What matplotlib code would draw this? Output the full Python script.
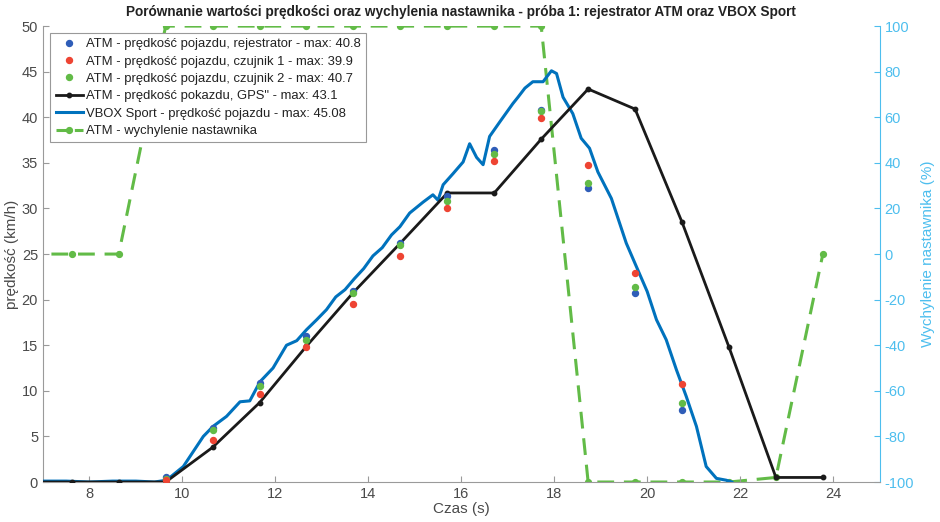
import matplotlib
matplotlib.use("Agg")
import matplotlib.pyplot as plt
from matplotlib.lines import Line2D

plt.rcParams['font.family'] = ['Liberation Sans', 'DejaVu Sans']
plt.rcParams['axes.unicode_minus'] = False

# ATM sample times (s)
t_atm = [6.61, 7.62, 8.63, 9.64, 10.65, 11.66, 12.67, 13.68, 14.69, 15.70,
         16.71, 17.72, 18.73, 19.74, 20.75, 21.76, 22.77, 23.78]
# GPS speed (km/h)
v_gps = [0, 0, 0, 0, 3.8, 8.7, 14.9, 20.8, 26.2, 31.7,
         31.7, 37.6, 43.1, 40.9, 28.5, 14.8, 0.5, 0.5]
# Setter deflection (%)
defl = [0, 0, 0, 100, 100, 100, 100, 100, 100, 100,
        100, 100, -100, -100, -100, -100, -98, 0]

# sensor samples
t_s = [9.64, 10.65, 11.66, 12.67, 13.68, 14.69, 15.70, 16.71, 17.72, 18.73, 19.74, 20.75]
v_rej = [0.5, 5.9, 10.9, 16.0, 21.0, 26.2, 31.4, 36.4, 40.8, 32.2, 20.7, 7.9]
v_cz1 = [0.2, 4.6, 9.7, 14.8, 19.5, 24.8, 30.0, 35.2, 39.9, 34.8, 22.9, 10.7]
v_cz2 = [0.3, 5.7, 10.5, 15.6, 20.7, 26.0, 30.8, 36.0, 40.7, 32.8, 21.4, 8.7]

# VBOX Sport trace
t_vbox = [6.9, 7.5, 8.0, 8.5, 9.0, 9.4, 9.66, 10.02, 10.45, 10.66, 10.95, 11.24,
          11.45, 11.67, 11.95, 12.24, 12.46, 12.67, 12.89, 13.1, 13.3, 13.5,
          13.7, 13.9, 14.1, 14.3, 14.5, 14.68, 14.89, 15.18, 15.39, 15.50,
          15.61, 15.82, 16.04, 16.18, 16.33, 16.47, 16.61, 16.83, 17.11, 17.22,
          17.37, 17.54, 17.76, 17.94, 18.05, 18.19, 18.40, 18.58, 18.76, 18.94,
          19.23, 19.55, 19.77, 20.0, 20.20, 20.41, 20.63, 20.84, 21.06, 21.27,
          21.49, 21.70, 21.82]
v_vbox = [0.1, 0.1, 0.0, 0.1, 0.1, 0.0, 0.2, 1.7, 5.0, 6.1, 7.2, 8.8,
          8.9, 11.0, 12.5, 15.0, 15.5, 16.7, 17.8, 18.9, 20.3, 21.1,
          22.3, 23.4, 24.8, 25.7, 27.1, 28.0, 29.5, 30.7, 31.5, 30.9,
          32.6, 33.8, 35.1, 37.1, 35.6, 34.8, 37.9, 39.5, 41.5, 42.2,
          43.2, 43.9, 43.9, 45.1, 44.8, 42.2, 40.4, 37.7, 36.6, 34.0,
          31.1, 26.2, 23.6, 20.9, 17.8, 15.6, 12.3, 9.4, 6.1, 1.7,
          0.4, 0.2, 0.0]

labels = ['ATM - prędkość pojazdu, rejestrator - max: 40.8',
          'ATM - prędkość pojazdu, czujnik 1 - max: 39.9',
          'ATM - prędkość pojazdu, czujnik 2 - max: 40.7',
          'ATM - prędkość pokazdu, GPS" - max: 43.1',
          'VBOX Sport - prędkość pojazdu - max: 45.08',
          'ATM - wychylenie nastawnika']

c_blue_dot = '#2F5DB8'
c_red = '#EE4433'
c_green = '#62BB47'
c_vbox = '#0072BD'
c_right = '#4DBEEE'
c_txt = '#4a4a4a'
c_spine = '#9A9A9A'

fig = plt.figure(figsize=(9.4, 5.22), dpi=100)
ax = fig.add_axes([0.0457, 0.0766, 0.890, 0.8734])
ax2 = ax.twinx()

ax.set_zorder(ax2.get_zorder() + 1)
ax.patch.set_visible(False)

ax2.plot(t_atm, defl, color=c_green, ls=(0, (5.5, 3.2)), lw=2.2, marker='o', ms=4.2)

ax.plot(t_vbox, v_vbox, color=c_vbox, lw=2.2, zorder=3)
ax.plot(t_atm, v_gps, color='#1a1a1a', lw=2.0, marker='o', ms=3.2, zorder=4)
ax.plot(t_s, v_rej, ls='none', marker='o', ms=4.3, color=c_blue_dot, zorder=5)
ax.plot(t_s, v_cz2, ls='none', marker='o', ms=4.3, color=c_green, zorder=5)
ax.plot(t_s, v_cz1, ls='none', marker='o', ms=4.3, color=c_red, zorder=5)

ax.set_xlim(7, 25)
ax.set_ylim(0, 50)
ax2.set_ylim(-100, 100)
ax.set_xticks([8, 10, 12, 14, 16, 18, 20, 22, 24])
ax.set_yticks(range(0, 51, 5))
ax2.set_yticks(range(-100, 101, 20))

for a in (ax, ax2):
    a.spines['top'].set_visible(False)
ax2.spines['left'].set_visible(False)
ax2.spines['bottom'].set_visible(False)
ax.spines['right'].set_visible(False)
ax.spines['left'].set_color(c_spine)
ax.spines['bottom'].set_color(c_spine)
ax2.spines['right'].set_color(c_right)

ax.tick_params(axis='both', direction='in', length=4, colors=c_txt, labelsize=10.5,
               width=0.8)
ax.tick_params(axis='both', color=c_spine)
ax2.tick_params(axis='y', direction='in', length=4, colors=c_right, labelsize=10.5,
                width=0.8)

ax.set_xlabel('Czas (s)', fontsize=11, color=c_txt, labelpad=1)
ax.set_ylabel('prędkość (km/h)', fontsize=11, color=c_txt, labelpad=2)
ax2.set_ylabel('Wychylenie nastawnika (%)', fontsize=11, color=c_right, labelpad=5)

ax.set_title('Porównanie wartości prędkości oraz wychylenia nastawnika - próba 1: '
             'rejestrator ATM oraz VBOX Sport',
             fontsize=9.8, fontweight='bold', color='#222222', pad=7)

handles = [
    Line2D([], [], ls='none', marker='o', ms=4.3, color=c_blue_dot),
    Line2D([], [], ls='none', marker='o', ms=4.3, color=c_red),
    Line2D([], [], ls='none', marker='o', ms=4.3, color=c_green),
    Line2D([], [], color='#1a1a1a', lw=2.0, marker='o', ms=3.2),
    Line2D([], [], color=c_vbox, lw=2.2),
    Line2D([], [], color=c_green, ls=(0, (3.5, 2.5)), lw=2.2, marker='o', ms=4.2),
]
leg = ax.legend(handles, labels, loc='upper left', bbox_to_anchor=(0.009, 0.985),
                fontsize=9.4, frameon=True, fancybox=False, edgecolor='#999999',
                framealpha=1, labelspacing=0.4, handlelength=2.1, handletextpad=0.2,
                borderpad=0.4, borderaxespad=0.0)
leg.get_frame().set_linewidth(0.8)
for txt in leg.get_texts():
    txt.set_color('#222222')

fig.savefig('out.png', dpi=100)
